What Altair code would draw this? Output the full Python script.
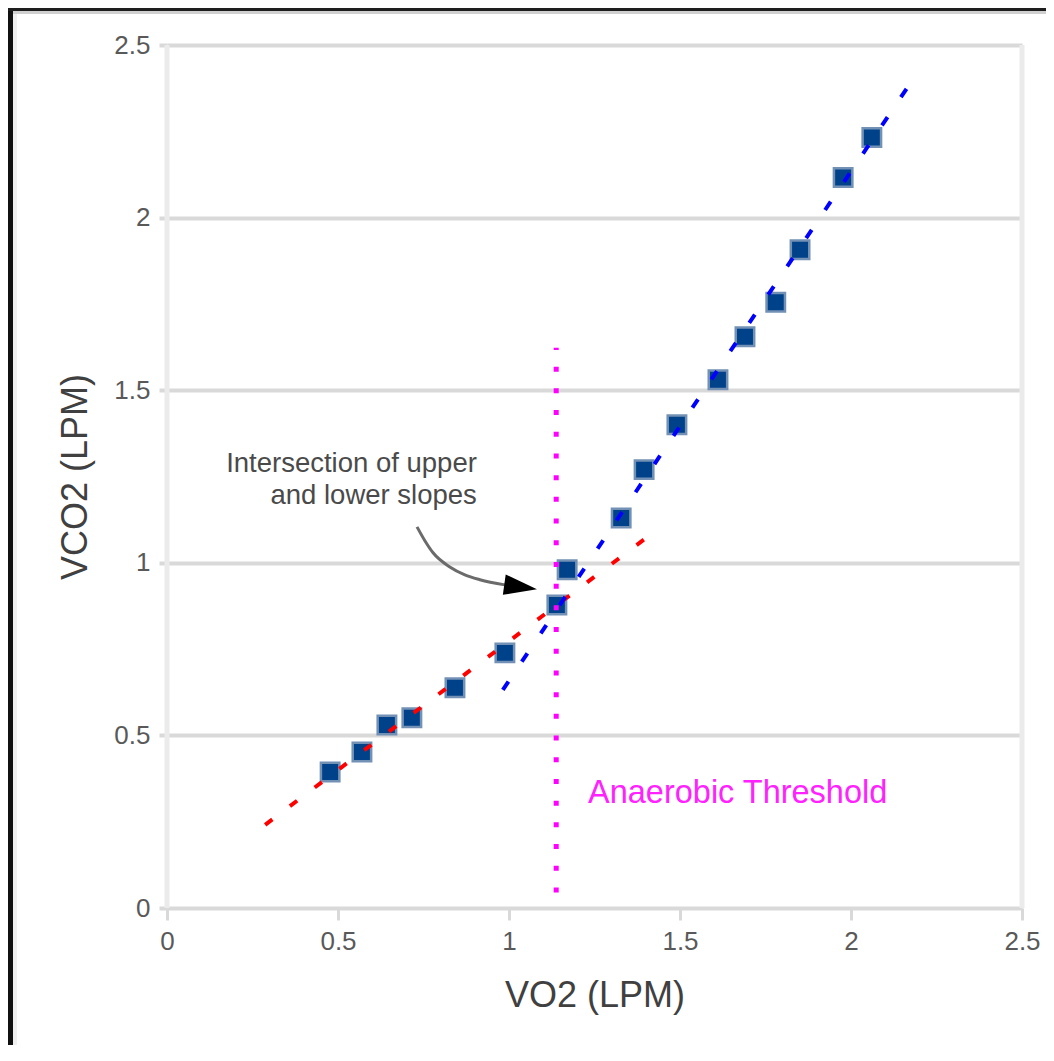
import altair as alt
import pandas as pd

# ---- data ----
vo2 = [0.477, 0.570, 0.643, 0.716, 0.842, 0.988, 1.140, 1.170, 1.328, 1.395,
       1.491, 1.611, 1.690, 1.780, 1.851, 1.977, 2.061]
vco2 = [0.394, 0.452, 0.530, 0.551, 0.638, 0.739, 0.878, 0.980, 1.130, 1.270,
        1.400, 1.530, 1.655, 1.755, 1.907, 2.116, 2.232]

lower_x = [0.287, 1.433]
lower_y = [0.241, 1.096]
upper_x = [0.982, 2.169]
upper_y = [0.632, 2.383]

threshold_x = [1.138]
threshold_y = [0.045]
threshold_y2 = [1.623]

arrow_x = [0.731, 0.754, 0.778, 0.827, 0.871, 0.915, 0.988]
arrow_y = [1.104, 1.064, 1.029, 0.988, 0.965, 0.951, 0.936]
arrowhead_x = [1.034]
arrowhead_y = [0.930]

note_lines = ["Intersection of upper", "and lower slopes"]
note_x = [0.906, 0.906]
note_y = [1.287, 1.194]

threshold_label = ["Anaerobic Threshold"]
threshold_label_x = [1.231]
threshold_label_y = [0.333]

frame_x = [0.0, 2.5]
tick_values = [0, 0.5, 1, 1.5, 2, 2.5]

FONT = "Liberation Sans"

xs = alt.Scale(domain=[0, 2.5], nice=False, zero=False)
ys = alt.Scale(domain=[0, 2.5], nice=False, zero=False)

x_axis = alt.Axis(values=tick_values, grid=False, domain=False,
                  tickColor="#d9d9d9", tickWidth=3, tickSize=12,
                  labelPadding=8, labelFontSize=26, labelColor="#595959",
                  labelFont=FONT, labelExpr="'' + datum.value",
                  labelFlush=False,
                  title="VO2 (LPM)", titleFont=FONT, titleFontSize=36,
                  titleFontWeight="normal", titleColor="#404040",
                  titleY=87, titleBaseline="middle")
y_axis = alt.Axis(values=tick_values, grid=True, gridColor="#d9d9d9",
                  gridWidth=4, domain=False,
                  tickColor="#d9d9d9", tickWidth=4, tickSize=8,
                  labelPadding=9, labelFontSize=26, labelColor="#595959",
                  labelFont=FONT, labelExpr="'' + datum.value",
                  labelFlush=False,
                  title="VCO2 (LPM)", titleFont=FONT, titleFontSize=36,
                  titleFontWeight="normal", titleColor="#404040",
                  titleX=-92, titleY=431.5, titleAngle=270,
                  titleAlign="center", titleBaseline="middle")


def X(field="x"):
    return alt.X(f"{field}:Q", scale=xs, axis=x_axis)


def Y(field="y"):
    return alt.Y(f"{field}:Q", scale=ys, axis=y_axis)


# vertical frame lines at x = 0 and x = 2.5
frame_df = pd.DataFrame({"x": frame_x, "y": [0.0, 0.0], "y2": [2.5, 2.5]})
frame = alt.Chart(frame_df).mark_rule(color="#ebebeb", strokeWidth=5).encode(
    x=X(), y=Y(), y2="y2:Q")

pts_df = pd.DataFrame({"x": vo2, "y": vco2})
points = alt.Chart(pts_df).mark_point(
    shape="square", filled=True, size=340, fill="#00428a",
    stroke="#7391b5", strokeWidth=2.5, opacity=1).encode(x=X(), y=Y())

low_df = pd.DataFrame({"x": lower_x, "y": lower_y})
low_line = alt.Chart(low_df).mark_line(
    color="#ff0000", strokeWidth=4, strokeDash=[9, 22]).encode(x=X(), y=Y())

up_df = pd.DataFrame({"x": upper_x, "y": upper_y})
up_line = alt.Chart(up_df).mark_line(
    color="#0000ff", strokeWidth=4, strokeDash=[10, 24]).encode(x=X(), y=Y())

thr_df = pd.DataFrame({"x": threshold_x, "y": threshold_y, "y2": threshold_y2})
thr_line = alt.Chart(thr_df).mark_rule(
    color="#ff00ff", strokeWidth=5, strokeDash=[5, 16.7]).encode(
    x=X(), y=Y(), y2="y2:Q")

arr_df = pd.DataFrame({"x": arrow_x, "y": arrow_y})
arrow = alt.Chart(arr_df).mark_line(
    color="#6b6b6b", strokeWidth=3, interpolate="monotone").encode(x=X(), y=Y())

head_df = pd.DataFrame({"x": arrowhead_x, "y": arrowhead_y})
head = alt.Chart(head_df).mark_point(
    shape="M-1,-0.62L1,0L-1,0.62Z", filled=True, size=1089, angle=8,
    color="#000000", opacity=1).encode(x=X(), y=Y())

note_df = pd.DataFrame({"x": note_x, "y": note_y, "t": note_lines})
note = alt.Chart(note_df).mark_text(
    align="right", baseline="middle", font=FONT, fontSize=27.5,
    color="#4a4a4a").encode(x=X(), y=Y(), text="t:N")

lab_df = pd.DataFrame({"x": threshold_label_x, "y": threshold_label_y,
                       "t": threshold_label})
lab = alt.Chart(lab_df).mark_text(
    align="left", baseline="middle", font=FONT, fontSize=32.5,
    color="#ff22ff").encode(x=X(), y=Y(), text="t:N")

one = pd.DataFrame({"a": [0]})
border_left = alt.Chart(one).mark_rule(color="#111111", strokeWidth=5).encode(
    x=alt.value(-156.5), y=alt.value(-37), y2=alt.value(1000))
border_left2 = alt.Chart(one).mark_rule(color="#f0f0f0", strokeWidth=4).encode(
    x=alt.value(-152), y=alt.value(-33), y2=alt.value(1000))
border_top = alt.Chart(one).mark_rule(color="#1e1e1e", strokeWidth=3).encode(
    y=alt.value(-35.5), x=alt.value(-159), x2=alt.value(900))
border_top2 = alt.Chart(one).mark_rule(color="#d0d0d0", strokeWidth=3).encode(
    y=alt.value(-32.5), x=alt.value(-154), x2=alt.value(900))

chart = alt.layer(
    frame, points, low_line, up_line, thr_line, arrow, head, note, lab,
    border_left, border_left2, border_top, border_top2
).properties(
    width=855, height=863,
    autosize=alt.AutoSizeParams(type="none"),
    padding={"left": 159, "top": 37, "right": 24, "bottom": 137},
    background="white",
).configure_view(stroke=None)

chart.save("out.html", embed_options={"renderer": "svg", "actions": False})
